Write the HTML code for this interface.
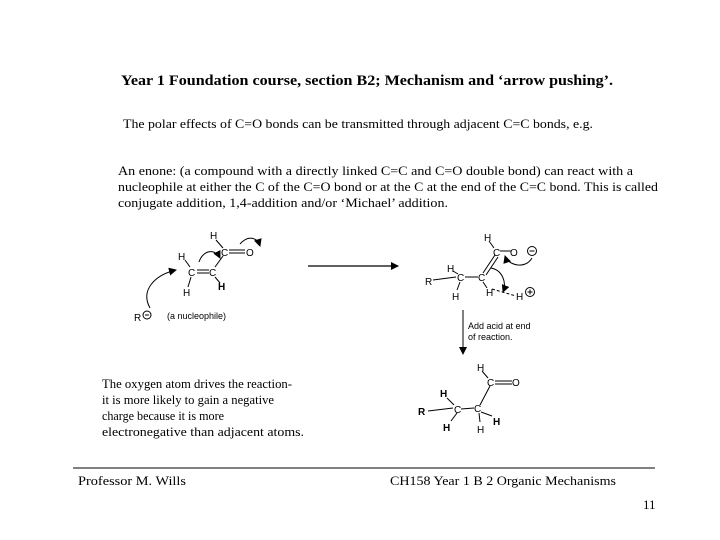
<!DOCTYPE html>
<html><head><meta charset="utf-8"><style>
html,body{margin:0;padding:0;background:#fff;}
svg{display:block}
.s{font-family:"Liberation Serif",serif;font-size:13px;fill:#000}
.a{font-family:"Liberation Sans",sans-serif;font-size:10px;fill:#000}
.b{font-family:"Liberation Sans",sans-serif;font-size:10px;font-weight:bold;fill:#000}
.t{font-family:"Liberation Sans",sans-serif;font-size:9px;fill:#000}
</style></head><body>
<svg width="720" height="540" viewBox="0 0 720 540" xmlns="http://www.w3.org/2000/svg">
<defs><marker id="ah" markerWidth="8" markerHeight="8" refX="7" refY="4" orient="auto" markerUnits="userSpaceOnUse"><path d="M0,0 L8,4 L0,8 z" fill="#000"/></marker></defs>
<text x="121" y="85" class="s" style="font-weight:bold;font-size:15px" textLength="492" lengthAdjust="spacingAndGlyphs">Year 1 Foundation course, section B2; Mechanism and ‘arrow pushing’.</text>
<text x="123" y="128" class="s" textLength="470" lengthAdjust="spacingAndGlyphs">The polar effects of C=O bonds can be transmitted through adjacent C=C bonds, e.g.</text>
<text x="118" y="175" class="s" textLength="515" lengthAdjust="spacingAndGlyphs">An enone:  (a compound with a directly linked C=C and C=O double bond) can react with a</text>
<text x="118" y="191" class="s" textLength="540" lengthAdjust="spacingAndGlyphs">nucleophile at either the C of the C=O bond or at the C at the end of the C=C bond. This is called</text>
<text x="118" y="207" class="s" textLength="330" lengthAdjust="spacingAndGlyphs">conjugate addition, 1,4-addition and/or ‘Michael’ addition.</text>

<g stroke="#000" stroke-width="1" fill="none">
<line x1="216" y1="240" x2="223" y2="248"/>
<line x1="229" y1="250" x2="245" y2="250"/><line x1="229" y1="253" x2="245" y2="253"/>
<line x1="197" y1="270" x2="209" y2="270"/><line x1="197" y1="273" x2="209" y2="273"/>
<line x1="215" y1="267" x2="223" y2="256"/>
<line x1="185" y1="260" x2="190" y2="267"/>
<line x1="191" y1="277" x2="188" y2="287"/>
<line x1="215" y1="277" x2="220" y2="283"/>
<path d="M150,308 C140,290 155,275 176,270" marker-end="url(#ah)"/>
<path d="M199,262 C203,250 215,248 220,258" marker-end="url(#ah)"/>
<path d="M240,244 C248,235 257,237 260,246" marker-end="url(#ah)"/>
</g>
<text x="210" y="239" class="a">H</text>
<text x="221" y="256" class="a">C</text>
<text x="246" y="256" class="a">O</text>
<text x="178" y="260" class="a">H</text>
<text x="188" y="276" class="a">C</text>
<text x="209" y="276" class="a">C</text>
<text x="183" y="296" class="a">H</text>
<text x="218" y="290" class="b">H</text>
<text x="134" y="321" class="a">R</text>
<circle cx="147" cy="315" r="4" stroke="#000" fill="none" stroke-width="1"/><line x1="145" y1="315" x2="149" y2="315" stroke="#000"/>
<text x="167" y="319" class="t">(a nucleophile)</text>

<line x1="308" y1="266" x2="398" y2="266" stroke="#000" stroke-width="1.2" marker-end="url(#ah)"/>

<g stroke="#000" stroke-width="1" fill="none">
<line x1="489" y1="241" x2="494" y2="248"/>
<line x1="500" y1="251" x2="511" y2="251"/>
<line x1="495" y1="255" x2="483" y2="273"/><line x1="498" y1="257" x2="486" y2="275"/>
<line x1="453" y1="271" x2="458" y2="274"/>
<line x1="433" y1="280" x2="456" y2="277"/>
<line x1="465" y1="277" x2="478" y2="277"/>
<line x1="460" y1="282" x2="457" y2="290"/>
<line x1="483" y1="282" x2="487" y2="288"/>
<line x1="492" y1="289" x2="516" y2="296" stroke-dasharray="3,2"/>
<path d="M532,258 C525,270 508,265 505,256" marker-end="url(#ah)"/>
<path d="M491,268 C502,270 507,282 503,292" marker-end="url(#ah)"/>
<line x1="463" y1="310" x2="463" y2="354" marker-end="url(#ah)"/>
<line x1="482" y1="371" x2="488" y2="378"/>
<line x1="495" y1="381" x2="512" y2="381"/><line x1="495" y1="384" x2="512" y2="384"/>
<line x1="490" y1="386" x2="480" y2="405"/>
<line x1="447" y1="398" x2="454" y2="405"/>
<line x1="428" y1="411" x2="453" y2="408"/>
<line x1="461" y1="409" x2="474" y2="408"/>
<line x1="457" y1="413" x2="451" y2="421"/>
<line x1="481" y1="412" x2="492" y2="416"/>
<line x1="479" y1="413" x2="480" y2="422"/>
</g>
<text x="484" y="241" class="a">H</text>
<text x="493" y="256" class="a">C</text>
<text x="510" y="256" class="a">O</text>
<circle cx="532" cy="251" r="4.5" stroke="#000" fill="none"/><line x1="529.5" y1="251" x2="534.5" y2="251" stroke="#000"/>
<text x="447" y="272" class="a">H</text>
<text x="425" y="285" class="a">R</text>
<text x="457" y="281" class="a">C</text>
<text x="478" y="281" class="a">C</text>
<text x="452" y="300" class="a">H</text>
<text x="486" y="296" class="a">H</text>
<text x="516" y="300" class="a">H</text>
<circle cx="530" cy="292" r="4.5" stroke="#000" fill="none"/><line x1="527.5" y1="292" x2="532.5" y2="292" stroke="#000"/><line x1="530" y1="289.5" x2="530" y2="294.5" stroke="#000"/>
<text x="468" y="329" class="t">Add acid at end</text>
<text x="468" y="340" class="t">of reaction.</text>
<text x="477" y="371" class="a">H</text>
<text x="487" y="386" class="a">C</text>
<text x="512" y="386" class="a">O</text>
<text x="440" y="397" class="b">H</text>
<text x="418" y="415" class="b">R</text>
<text x="454" y="413" class="a">C</text>
<text x="474" y="412" class="a">C</text>
<text x="443" y="431" class="b">H</text>
<text x="493" y="425" class="b">H</text>
<text x="477" y="433" class="a">H</text>

<text x="102" y="388" class="s" textLength="190" lengthAdjust="spacingAndGlyphs">The oxygen atom drives the reaction-</text>
<text x="102" y="404" class="s" textLength="172" lengthAdjust="spacingAndGlyphs">it is more likely to gain a negative</text>
<text x="102" y="420" class="s" textLength="122" lengthAdjust="spacingAndGlyphs">charge because it is more</text>
<text x="102" y="436" class="s" textLength="202" lengthAdjust="spacingAndGlyphs">electronegative than adjacent atoms.</text>

<line x1="73" y1="468" x2="655" y2="468" stroke="#000" stroke-width="1"/>
<text x="78" y="485" class="s" textLength="108" lengthAdjust="spacingAndGlyphs">Professor M. Wills</text>
<text x="390" y="485" class="s" textLength="226" lengthAdjust="spacingAndGlyphs">CH158 Year 1 B 2 Organic Mechanisms</text>
<text x="643" y="509" class="s">11</text>
</svg>
</body></html>
